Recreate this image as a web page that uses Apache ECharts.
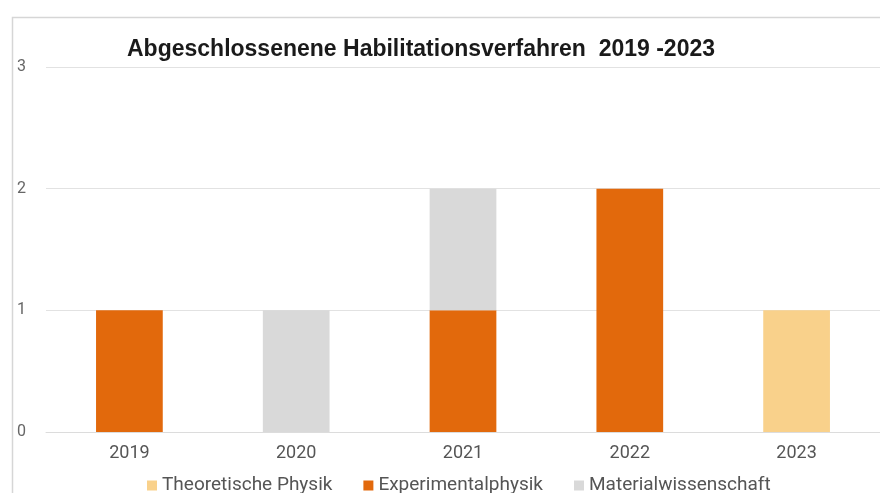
<!DOCTYPE html>
<html>
<head>
<meta charset="utf-8">
<script src="https://cdn.jsdelivr.net/npm/echarts@6/dist/echarts.min.js"></script>
<style>
  html, body { margin: 0; padding: 0; background: #fff; }
  #chart { width: 880px; height: 493px; }
</style>
</head>
<body>
<div id="chart"></div>
<script>
// Completed habilitation procedures per year and field
const years = ['2019', '2020', '2021', '2022', '2023'];
const theoretischePhysik = [0, 0, 0, 0, 1];
const experimentalphysik = [1, 0, 1, 2, 0];
const materialwissenschaft = [0, 1, 1, 0, 0];
const yTicks = [0, 1, 2, 3];

const chart = echarts.init(document.getElementById('chart'));

const toData = arr => arr.map(v => (v === 0 ? null : v));

chart.setOption({
  backgroundColor: '#ffffff',
  animation: false,
  graphic: [{
    type: 'rect',
    left: 10, top: 15,
    shape: { x: 0, y: 0, width: 900, height: 500 },
    style: { fill: 'none', stroke: '#d6d6d6', lineWidth: 1.5 },
    silent: true
  }],
  title: {
    text: 'Abgeschlossenene Habilitationsverfahren  2019 -2023',
    left: 122, top: 33,
    textStyle: { fontFamily: 'Liberation Sans, Arial', fontWeight: 'bold', fontSize: 23, color: '#1a1a1a' }
  },
  grid: { left: 46, top: 67, width: 835, height: 365, containLabel: false },
  legend: {
    top: 471, left: 142,
    itemWidth: 10, itemHeight: 10, itemGap: 31,
    icon: 'rect',
    textStyle: { fontFamily: 'Roboto', fontSize: 19, color: '#555' },
    data: ['Theoretische Physik', 'Experimentalphysik', 'Materialwissenschaft']
  },
  xAxis: {
    type: 'category',
    data: years,
    axisLine: { lineStyle: { color: '#dcdcdc' } },
    axisTick: { show: false },
    axisLabel: { fontFamily: 'Roboto', fontSize: 18, color: '#555', margin: 12 }
  },
  yAxis: {
    type: 'value',
    min: yTicks[0], max: yTicks[yTicks.length - 1], interval: 1,
    axisLine: { show: false },
    axisTick: { show: false },
    splitLine: { lineStyle: { color: '#e2e2e2' } },
    axisLabel: { fontFamily: 'Roboto', fontSize: 16, color: '#666', margin: 20 }
  },
  series: [
    { name: 'Theoretische Physik', type: 'bar', stack: 'total', barWidth: '40%',
      itemStyle: { color: '#f9d18b' }, data: toData(theoretischePhysik) },
    { name: 'Experimentalphysik', type: 'bar', stack: 'total', barWidth: '40%',
      itemStyle: { color: '#e2690c' }, data: toData(experimentalphysik) },
    { name: 'Materialwissenschaft', type: 'bar', stack: 'total', barWidth: '40%',
      itemStyle: { color: '#d9d9d9' }, data: toData(materialwissenschaft) }
  ]
});
</script>
</body>
</html>
